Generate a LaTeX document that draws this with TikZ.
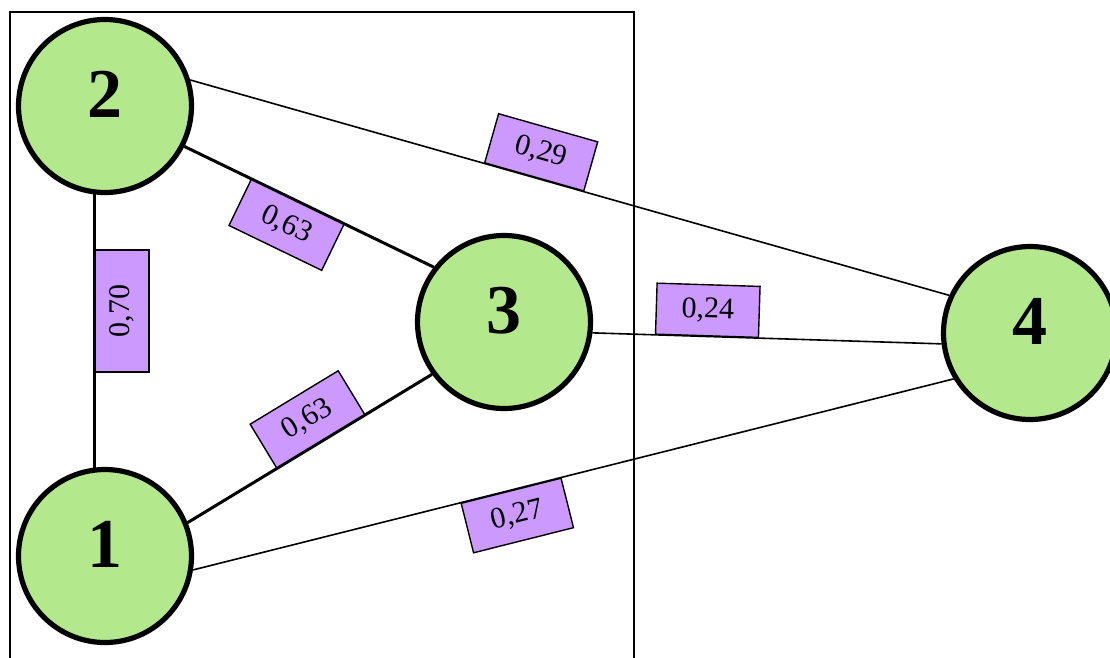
\documentclass[tikz,border=0pt]{standalone}
\usepackage{fontspec}
\setmainfont{Liberation Serif}
\usetikzlibrary{positioning}
\definecolor{nodegreen}{RGB}{179,232,140}
\definecolor{wpurple}{RGB}{204,153,255}

\begin{document}
\begin{tikzpicture}[
        x=1pt, y=-1pt,
        vertex/.style={circle, draw, line width=5.2pt, fill=nodegreen, minimum size=173pt, inner sep=0pt, text height=47pt, text depth=24pt, font=\fontsize{70}{70}\selectfont\bfseries},
        weight/.style={rectangle, draw, line width=1.4pt, fill=wpurple, minimum width=103pt, minimum height=51pt, inner sep=0pt, sloped, font=\fontsize{30}{30}\selectfont},
        strong/.style={line width=3pt},
        weak/.style={line width=1.6pt}
    ]
        \useasboundingbox (0,0) rectangle (1110,657);
        \draw [line width=1.4pt] (10,12) rectangle (634,680);

        \node (n2) [vertex] at (105,106) {2};
        \node (n1) [vertex] at (105,556) {1};
        \node (n3) [vertex] at (504,322) {3};
        \node (n4) [vertex] at (1030,333) {4};

        \draw [strong] (n1.97) -- node (w12) [weight, below, pos=0.573, minimum width=122pt, minimum height=54pt] {0,70} (n2.263);
        \draw [strong] (n2.-27) -- node (w23) [weight, below, pos=0.455] {0,63} (n3.142);
        \draw [strong] (n1.22) -- node (w13) [weight, above, pos=0.546] {0,63} (n3.216);
        \draw [weak] (n2.17) -- node (w24) [weight, above, pos=0.453] {0,29} (n4.155);
        \draw [weak] (n3.-7) -- node (w34) [weight, above, pos=0.328] {0,24} (n4.187);
        \draw [weak] (n1.-9) -- node (w14) [weight, below, pos=0.418] {0,27} (n4.211);
    \end{tikzpicture}
\end{document}
